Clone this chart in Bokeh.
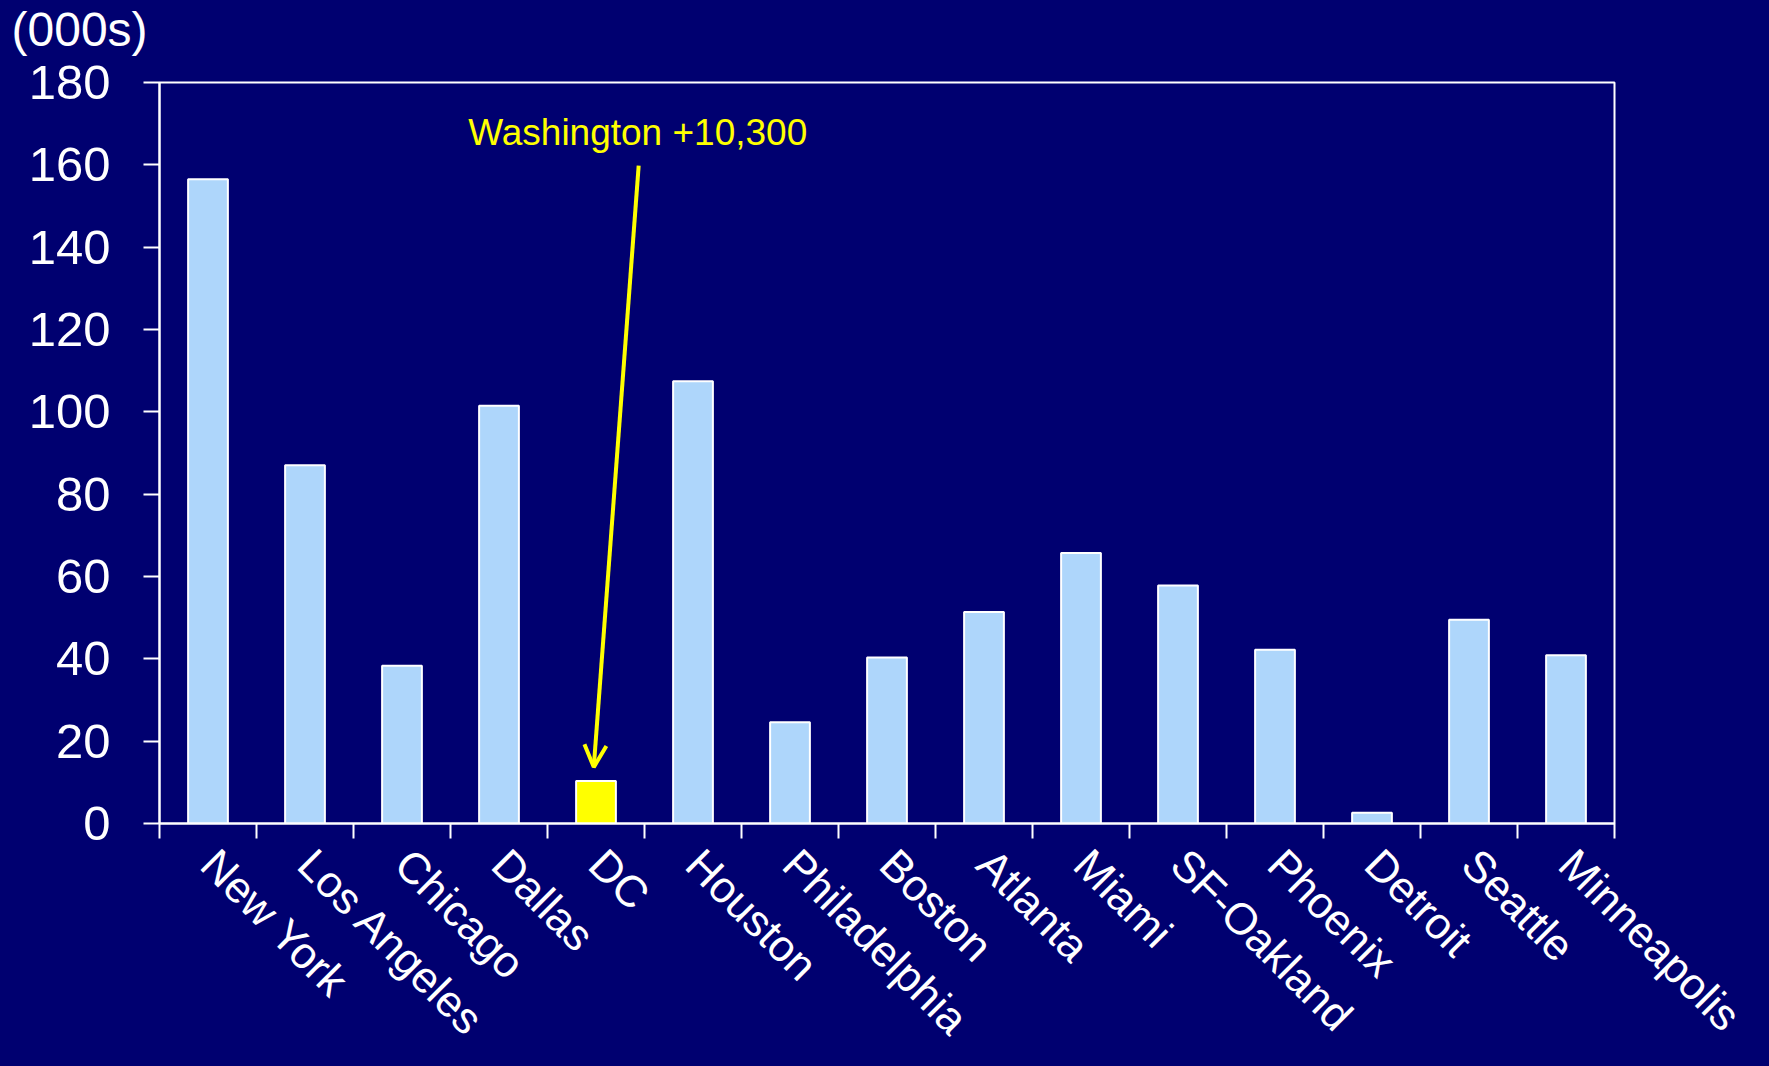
import math
from bokeh.plotting import figure
from bokeh.models import (Range1d, FixedTicker, LinearAxis, Label, Title,
                          ColumnDataSource, Arrow, OpenHead, CustomJSTickFormatter)
from bokeh.embed import file_html
from bokeh.resources import INLINE

# ---- data (thousands) ----
cities = ["New York", "Los Angeles", "Chicago", "Dallas", "DC", "Houston",
          "Philadelphia", "Boston", "Atlanta", "Miami", "SF-Oakland",
          "Phoenix", "Detroit", "Seattle", "Minneapolis"]
values = [156.5, 87.0, 38.3, 101.5, 10.3, 107.4, 24.6, 40.3, 51.4, 65.7,
          57.8, 42.2, 2.6, 49.5, 40.9]
highlight = "DC"
y_ticks = [0, 20, 40, 60, 80, 100, 120, 140, 160, 180]
unit_label = "(000s)"
note_text = "Washington +10,300"

BG = "#000070"
BAR = "#aed6fb"
YEL = "#ffff00"
FONT = "Liberation Sans"

n = len(cities)
centers = [i + 0.5 for i in range(n)]
colors = [YEL if c == highlight else BAR for c in cities]
hi = cities.index(highlight)
LBL_SHIFT = 0.01  # label anchor shift (category units) for rotated labels

p = figure(width=1769, height=1066, output_backend="svg", toolbar_location=None,
           x_range=Range1d(0, n), y_range=Range1d(0, 180),
           x_axis_type=None, y_axis_type=None,
           min_border_left=159, min_border_right=155,
           min_border_top=82, min_border_bottom=243)
p.background_fill_color = BG
p.border_fill_color = BG
p.outline_line_color = "white"
p.outline_line_width = 2

# spacer panel (closest to the frame), then the unit label above it
spacer = Title(text=" ", text_font_size="1px", standoff=22,
               text_color=BG)
p.add_layout(spacer, "above")
t = Title(text=unit_label, align="left", offset=-148, standoff=0,
          vertical_align="top",
          text_color="white", text_font=FONT, text_font_size="48px",
          text_font_style="normal")
p.add_layout(t, "above")

# y axis
yax = LinearAxis(ticker=FixedTicker(ticks=y_ticks))
yax.axis_line_color = "white"
yax.axis_line_width = 2
yax.major_tick_line_color = "white"
yax.major_tick_line_width = 2
yax.major_tick_out = 16
yax.major_tick_in = 0
yax.minor_tick_line_color = None
yax.major_label_text_color = "white"
yax.major_label_text_font = FONT
yax.major_label_text_font_size = "49px"
yax.major_label_standoff = 33
p.add_layout(yax, "left")

# x axis: tick marks at category boundaries, labels at category centers
label_ticks = [c + LBL_SHIFT for c in centers]
xax = LinearAxis(ticker=FixedTicker(ticks=label_ticks,
                                    minor_ticks=list(range(n + 1))))
xax.formatter = CustomJSTickFormatter(args=dict(names=cities),
                                      code="return names[Math.floor(tick)];")
xax.axis_line_color = "white"
xax.axis_line_width = 2
xax.major_tick_line_color = None
xax.major_tick_out = 0
xax.major_tick_in = 0
xax.minor_tick_line_color = "white"
xax.minor_tick_line_width = 2
xax.minor_tick_out = 15
xax.minor_tick_in = 0
xax.major_label_orientation = -math.pi / 4
xax.major_label_standoff = 18
xax.major_label_text_color = "white"
xax.major_label_text_font = FONT
xax.major_label_text_font_size = "44px"
p.add_layout(xax, "below")

p.ygrid.ticker = FixedTicker(ticks=y_ticks)
p.ygrid.grid_line_color = "white"
p.ygrid.grid_line_width = 2
p.xgrid.grid_line_color = None

src = ColumnDataSource(dict(x=centers, top=values, color=colors))
p.vbar(x="x", top="top", bottom=0, width=0.41, source=src,
       fill_color="color", line_color="white", line_width=2)

# annotation
p.add_layout(Label(x=4.93, y=167.8, text=note_text, text_color=YEL,
                   text_font=FONT, text_font_size="37px",
                   text_align="center", text_baseline="alphabetic"))
p.add_layout(Arrow(x_start=4.94, y_start=159.8, x_end=hi + 0.477,
                   y_end=values[hi] + 3.4, line_color=YEL, line_width=4,
                   end=OpenHead(size=22, line_color=YEL, line_width=4)))

html = file_html(p, INLINE)
html = html.replace("</head>",
                    "<style>body{background:#000070;overflow:hidden;}</style></head>", 1)
open("out.html", "w").write(html)
